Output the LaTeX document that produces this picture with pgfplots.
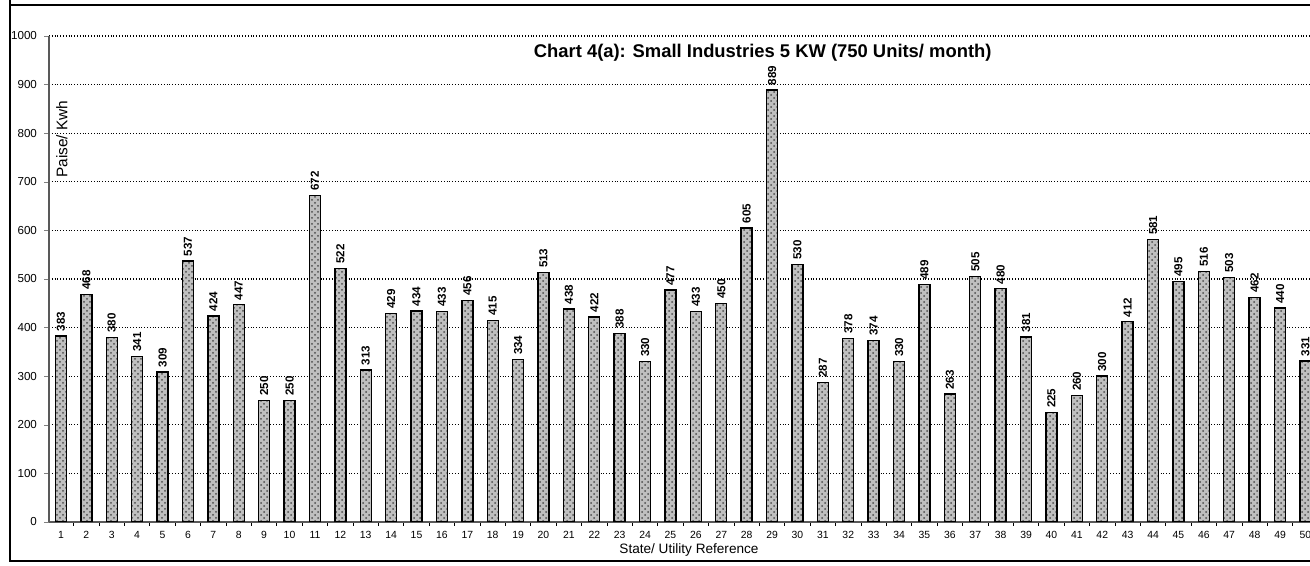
\documentclass[border=0pt]{standalone}
\usepackage{pgfplots}
\pgfplotsset{compat=1.18}
\usepackage{fontspec}
\setmainfont{Liberation Sans}
\usetikzlibrary{patterns}

\begin{document}
\begin{tikzpicture}
% page = 1310x566 px at 0.5pt per px
\useasboundingbox (0,0) rectangle (655pt,283pt);
\draw[line width=0.8pt] (5pt,300pt) -- (5pt,2.5pt) -- (700pt,2.5pt);
\draw[line width=0.8pt] (5pt,280.5pt) -- (700pt,280.5pt);
\begin{axis}[
at={(24.5pt,22pt)}, anchor=south west,
scale only axis, width=630.5pt, height=243pt,
clip mode=individual,
ybar, bar width=5.5pt,
xmin=0.53, xmax=50.18, ymin=0, ymax=1000,
axis x line*=bottom, axis y line*=left,
axis line style={-, gray!70!black, line width=0.7pt},
xtick=data,
minor xtick={0.5,1.5,...,50.5},
major x tick style={draw=none},
minor x tick style={black, line width=0.4pt},
minor tick length=2pt,
ytick={0,100,...,1000},
major tick length=2.5pt,
tick align=outside,
ymajorgrids,
major grid style={densely dotted, black, line width=0.6pt},
/pgf/number format/assume math mode=true,
/pgf/number format/set thousands separator={},
y tick label style={font=\fontsize{5.8}{6}\selectfont},
x tick label style={font=\fontsize{5.2}{6}\selectfont, yshift=1.5pt},
nodes near coords,
nodes near coords style={rotate=90, anchor=west, font=\bfseries\fontsize{5.8}{6}\selectfont, inner sep=2pt},
]
\addplot[draw=black, line width=0.7pt, fill=gray!50,
  postaction={pattern=crosshatch dots, pattern color=gray!60!black}] coordinates {
(1,383) (2,468) (3,380) (4,341) (5,309) (6,537) (7,424) (8,447) (9,250) (10,250)
(11,672) (12,522) (13,313) (14,429) (15,434) (16,433) (17,456) (18,415) (19,334) (20,513)
(21,438) (22,422) (23,388) (24,330) (25,477) (26,433) (27,450) (28,605) (29,889) (30,530)
(31,287) (32,378) (33,374) (34,330) (35,489) (36,263) (37,505) (38,480) (39,381) (40,225)
(41,260) (42,300) (43,412) (44,581) (45,495) (46,516) (47,503) (48,462) (49,440) (50,331)
};
\node[font=\bfseries\fontsize{9.2}{10}\selectfont] at (rel axis cs:0.566,0.965)
  {Chart 4(a): Small Industries 5 KW (750 Units/ month)};
\node[rotate=90, anchor=east, inner sep=0pt, font=\fontsize{7.7}{8}\selectfont] at (rel axis cs:0.0103,0.868)
  {Paise/ Kwh};
\node[font=\fontsize{6.8}{7}\selectfont, yshift=-14pt] at (rel axis cs:0.5075,0)
  {State/ Utility Reference};
\end{axis}
\end{tikzpicture}
\end{document}
